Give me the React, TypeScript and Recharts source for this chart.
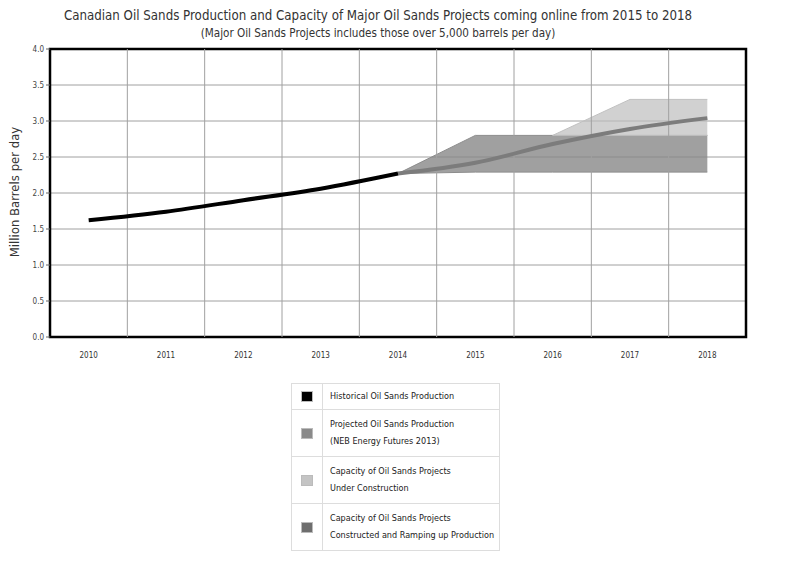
import {
  Area,
  CartesianGrid,
  ComposedChart,
  Line,
  ReferenceArea,
  ReferenceLine,
  XAxis,
  YAxis,
} from "recharts";

const years = ["2010", "2011", "2012", "2013", "2014", "2015", "2016", "2017", "2018"];
const historical = [1.62, 1.74, 1.9, 2.06, 2.27, null, null, null, null];
const projected = [null, null, null, null, 2.27, 2.42, 2.68, 2.89, 3.04];
const constructedLow = [null, null, null, null, 2.27, 2.29, 2.29, 2.29, 2.29];
const constructedHigh = [null, null, null, null, 2.27, 2.8, 2.8, 2.8, 2.8];
const underConstructionLow = [null, null, null, null, null, null, 2.8, 2.8, 2.8];
const underConstructionHigh = [null, null, null, null, null, null, 2.8, 3.3, 3.3];
const yTicks = [0, 0.5, 1, 1.5, 2, 2.5, 3, 3.5, 4];

const data = years.map((year, i) => ({
  year,
  historical: historical[i],
  projected: projected[i],
  constructed:
    constructedLow[i] === null ? null : [constructedLow[i], constructedHigh[i]],
  underConstruction:
    underConstructionLow[i] === null
      ? null
      : [underConstructionLow[i], underConstructionHigh[i]],
}));

const legendRows = [
  { color: "#000000", lines: ["Historical Oil Sands Production"] },
  { color: "#8a8a8a", lines: ["Projected Oil Sands Production", "(NEB Energy Futures 2013)"] },
  { color: "#c4c4c4", lines: ["Capacity of Oil Sands Projects", "Under Construction"] },
  { color: "#6e6e6e", lines: ["Capacity of Oil Sands Projects", "Constructed and Ramping up Production"] },
];

const font = "'DejaVu Sans Condensed', 'DejaVu Sans', sans-serif";

function ChartLegend() {
  return (
    <div
      style={{
        position: "absolute",
        left: 291,
        top: 383,
        width: 207,
        border: "1px solid #ddd",
        fontFamily: font,
        fontSize: 9,
        color: "#222",
      }}
    >
      {legendRows.map((row, i) => (
        <div
          key={i}
          style={{
            display: "flex",
            borderTop: i === 0 ? "none" : "1px solid #ddd",
            height: i === 0 ? 25 : 46,
          }}
        >
          <div
            style={{
              width: 30,
              borderRight: "1px solid #ddd",
              display: "flex",
              alignItems: "center",
              justifyContent: "center",
            }}
          >
            <div
              style={{
                width: 10,
                height: 9,
                background: row.color,
                border: "1px solid #bbb",
              }}
            />
          </div>
          <div
            style={{
              paddingLeft: 7,
              display: "flex",
              flexDirection: "column",
              justifyContent: "center",
              lineHeight: "17px",
            }}
          >
            {row.lines.map((t) => (
              <div key={t}>{t}</div>
            ))}
          </div>
        </div>
      ))}
    </div>
  );
}

export default function App() {
  return (
    <div
      style={{
        position: "fixed",
        left: 0,
        top: 0,
        width: 800,
        height: 570,
        background: "#fff",
      }}
    >
      <div
        style={{
          position: "absolute",
          left: 0,
          width: 756,
          top: 8,
          textAlign: "center",
          fontFamily: font,
          fontSize: 13.2,
          color: "#333",
        }}
      >
        Canadian Oil Sands Production and Capacity of Major Oil Sands Projects coming online from 2015 to 2018
      </div>
      <div
        style={{
          position: "absolute",
          left: 0,
          width: 756,
          top: 26,
          textAlign: "center",
          fontFamily: font,
          fontSize: 11.6,
          color: "#333",
        }}
      >
        (Major Oil Sands Projects includes those over 5,000 barrels per day)
      </div>
      <div
        style={{
          position: "absolute",
          left: 14,
          top: 192,
          transform: "translate(-50%, -50%) rotate(-90deg)",
          whiteSpace: "nowrap",
          fontFamily: font,
          fontSize: 13,
          color: "#333",
        }}
      >
        Million Barrels per day
      </div>
      <ComposedChart
        width={800}
        height={570}
        data={data}
        margin={{ top: 49, right: 54, left: 10, bottom: 203 }}
        style={{ fontFamily: font }}
      >
        <CartesianGrid vertical={false} stroke="#a0a0a0" strokeWidth={1} />
        <XAxis
          dataKey="year"
          scale="band"
          height={30}
          axisLine={false}
          tickLine={false}
          tick={{ fill: "#333", fontSize: 8 }}
          tickMargin={9}
        />
        <YAxis
          domain={[0, 4]}
          ticks={yTicks}
          width={40}
          tickFormatter={(v: number) => v.toFixed(1)}
          tick={{ fill: "#444", fontSize: 8 }}
          tickLine={{ stroke: "#666" }}
          tickSize={4}
          axisLine={false}
        />
        {years.slice(1).map((year) => (
          <ReferenceLine
            key={year}
            x={year}
            position="start"
            stroke="#a0a0a0"
            strokeWidth={1}
          />
        ))}
        <Area
          type="linear"
          dataKey="constructed"
          stroke="#8c8c8c"
          fill="#858585"
          fillOpacity={0.78}
          isAnimationActive={false}
        />
        <Area
          type="linear"
          dataKey="underConstruction"
          stroke="#c0c0c0"
          fill="#bdbdbd"
          fillOpacity={0.7}
          isAnimationActive={false}
        />
        <Line
          type="monotone"
          dataKey="projected"
          stroke="#7c7c7c"
          strokeWidth={4}
          dot={false}
          isAnimationActive={false}
        />
        <Line
          type="monotone"
          dataKey="historical"
          stroke="#000"
          strokeWidth={4}
          dot={false}
          isAnimationActive={false}
        />
        <ReferenceArea
          y1={0}
          y2={4}
          fill="none"
          fillOpacity={0}
          stroke="#000"
          strokeWidth={2.5}
          ifOverflow="visible"
        />
      </ComposedChart>
      <ChartLegend />
    </div>
  );
}
